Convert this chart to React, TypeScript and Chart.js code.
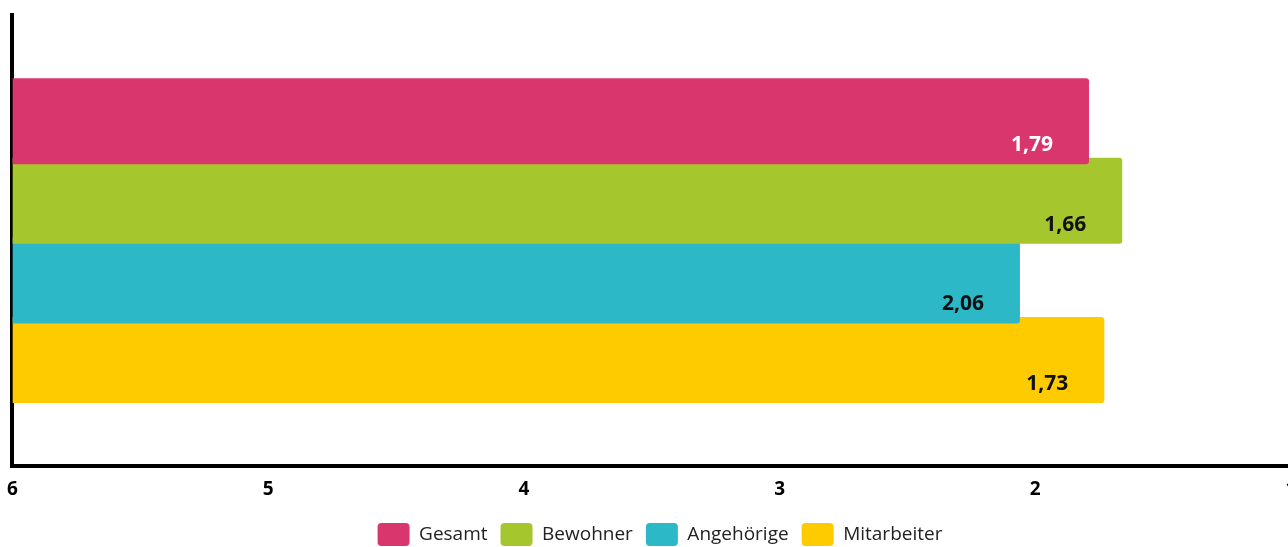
import React, { useEffect, useRef } from "react";
import { Chart, registerables } from "chart.js";

Chart.register(...registerables);

const categories = [""];
const seriesNames = ["Gesamt", "Bewohner", "Angehörige", "Mitarbeiter"];
const seriesValues = [1.79, 1.66, 2.06, 1.73];
const seriesColors = ["#D9366D", "#A6C62D", "#2CB8C6", "#FECB00"];
const labelColors = ["#FFFFFF", "#111111", "#111111", "#111111"];
const tickValues = [6, 5, 4, 3, 2, 1];
const baseValue = 6;

const valueLabels = {
  id: "valueLabels",
  afterDatasetsDraw(chart: any) {
    const ctx = chart.ctx;
    const xs = chart.scales.x;
    ctx.save();
    ctx.font = "bold 21px 'Open Sans'";
    ctx.textAlign = "right";
    ctx.textBaseline = "alphabetic";
    chart.data.datasets.forEach((ds: any, i: number) => {
      const meta = chart.getDatasetMeta(i);
      const el: any = meta.data[0];
      if (!el) return;
      const v = seriesValues[i];
      const px = xs.getPixelForValue(v);
      const bottom = el.y + el.height / 2;
      ctx.fillStyle = labelColors[i];
      ctx.fillText(v.toFixed(2).replace(".", ","), px - 36, bottom - 13);
    });
    ctx.restore();
  },
};

const legendShift = {
  id: "legendShift",
  afterLayout(chart: any) {
    const l = chart.legend;
    if (l) {
      l.left += 17;
      l.right += 17;
    }
  },
};

export default function App() {
  const ref = useRef<HTMLCanvasElement | null>(null);
  useEffect(() => {
    if (!ref.current) return;
    const chart = new Chart(ref.current, {
      type: "bar",
      data: {
        labels: categories,
        datasets: seriesNames.map((name, i) => ({
          label: name,
          data: [seriesValues[i]],
          base: baseValue,
          backgroundColor: seriesColors[i],
          borderWidth: 0,
          borderSkipped: false,
          borderRadius: { topLeft: 0, bottomLeft: 0, topRight: 3, bottomRight: 3 },
          categoryPercentage: 0.706,
          barPercentage: 1.08,
        })),
      },
      options: {
        indexAxis: "y",
        responsive: false,
        animation: false,
        layout: { padding: { top: 15, right: 34, left: 0, bottom: 0 } },
        scales: {
          x: {
            min: 1,
            max: 6,
            reverse: true,
            afterBuildTicks: (scale: any) => {
              scale.ticks = tickValues.map((v) => ({ value: v }));
            },
            afterFit: (scale: any) => {
              scale.height -= 3;
            },
            grid: { display: false, drawTicks: false },
            border: { display: true, color: "#000", width: 4 },
            ticks: {
              color: "#000",
              padding: 12,
              font: { family: "'Open Sans'", size: 19, weight: "bold" },
              callback: (v: any) => String(v),
            },
          },
          y: {
            grid: { display: false, drawTicks: false },
            border: { display: true, color: "#000", width: 4 },
            ticks: { display: false },
          },
        },
        plugins: {
          legend: {
            position: "bottom",
            labels: {
              boxWidth: 32,
              boxHeight: 23,
              useBorderRadius: true,
              borderRadius: 4,
              padding: 13,
              color: "#222",
              font: { family: "'Open Sans'", size: 19 },
            },
          },
          tooltip: { enabled: false },
        },
      },
      plugins: [valueLabels, legendShift],
    } as any);
    return () => chart.destroy();
  }, []);
  return (
    <div style={{ position: "absolute", left: 0, top: 0, width: 1288, height: 547, overflow: "hidden", background: "#fff" }}>
      <canvas ref={ref} width={1330} height={556} style={{ display: "block", marginLeft: -5 }} />
    </div>
  );
}
